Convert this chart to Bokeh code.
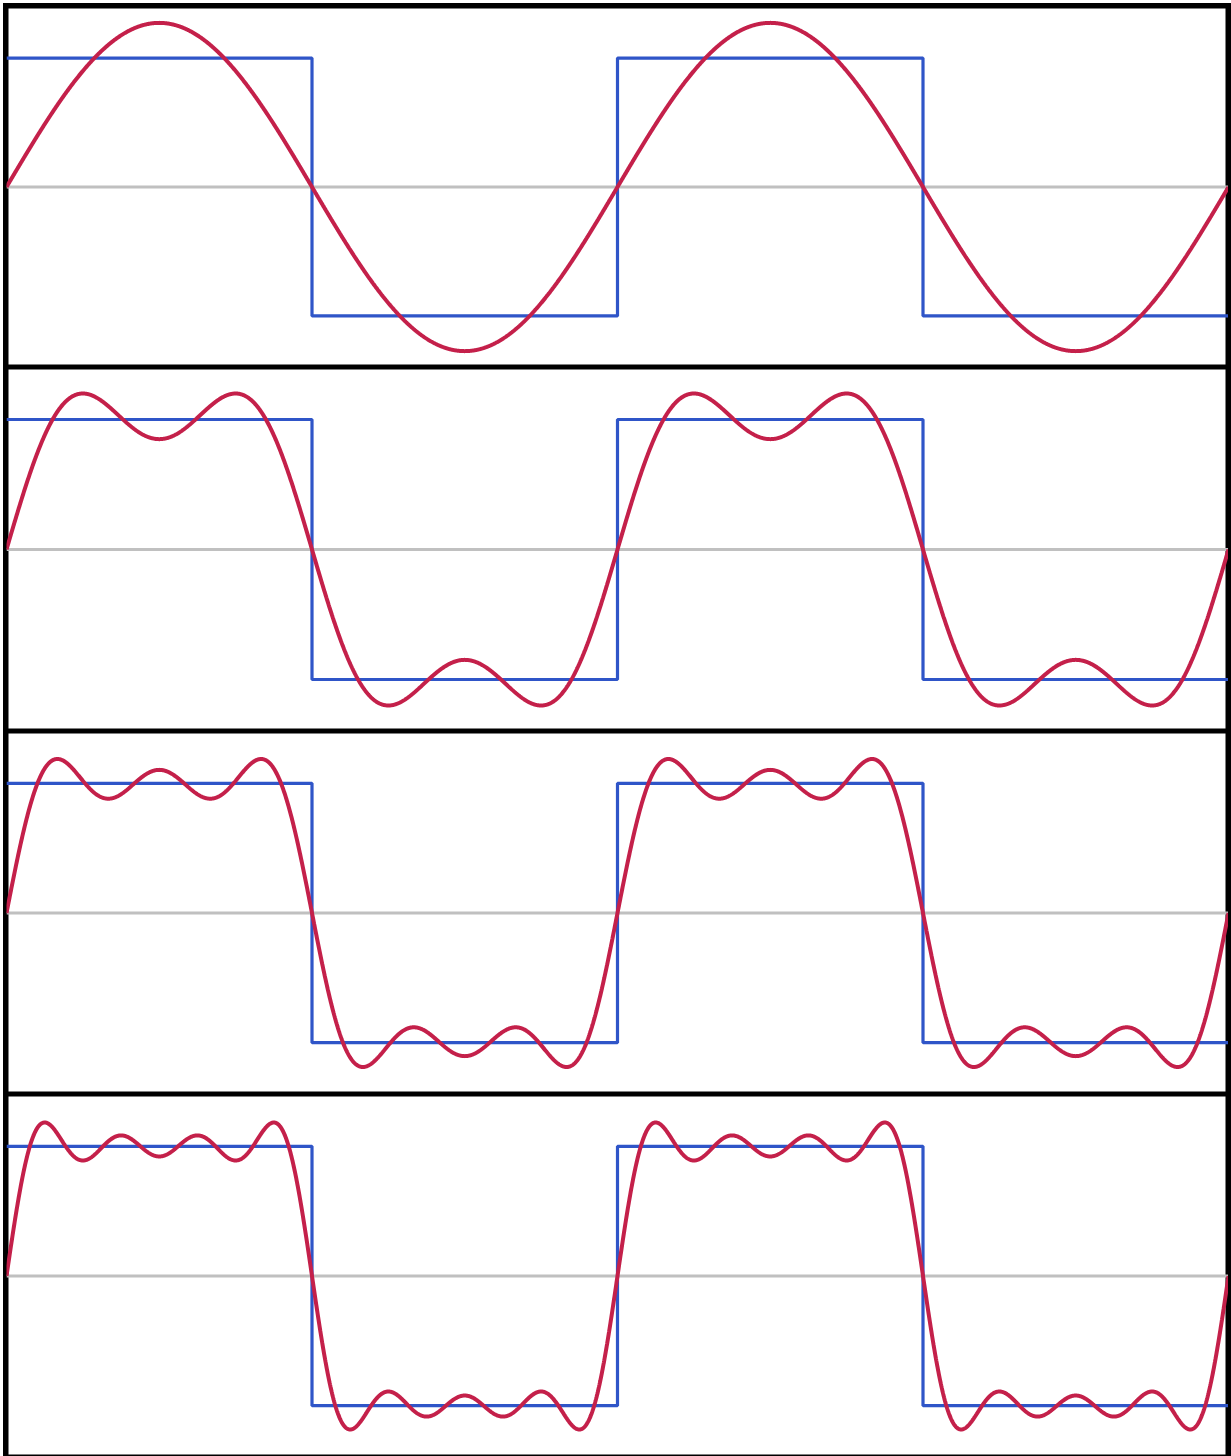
import numpy as np
from bokeh.plotting import figure
from bokeh.layouts import column
from bokeh.models import Range1d
from bokeh.embed import file_html
from bokeh.resources import INLINE

# Fourier partial sums of a square wave: odd harmonics and their amplitudes
harmonics = [1, 3, 5, 7]
amplitudes = [1.273, 0.424, 0.255, 0.182]
terms_per_panel = [1, 2, 3, 4]

# square wave (in periods): edges and levels
square_x = [0.0, 0.5, 1.0, 1.5, 2.0]
square_y = [1, -1, 1, -1, -1]

panel_heights = [361, 364, 363, 363]
WIDTH = 1222

BLUE = "#2f55c8"
RED = "#c4204a"
GREY = "#c0c0c0"

x = np.linspace(0, 2, 3000)

figs = []
for k, (nterms, h) in enumerate(zip(terms_per_panel, panel_heights)):
    p = figure(width=WIDTH, height=h, output_backend="svg", toolbar_location=None,
               x_range=Range1d(0, 2), y_range=Range1d(-1.4, 1.4),
               min_border=0, min_border_left=0, min_border_right=0,
               min_border_top=0, min_border_bottom=0)
    p.axis.visible = False
    p.grid.visible = False
    p.outline_line_color = "black"
    p.outline_line_width = 4
    p.background_fill_color = "white"
    p.border_fill_color = "white"

    p.line([0, 2], [0, 0], line_color=GREY, line_width=3)
    p.step(square_x, square_y, mode="after", line_color=BLUE, line_width=3.2)

    y = np.zeros_like(x)
    for n, a in zip(harmonics[:nterms], amplitudes[:nterms]):
        y = y + a * np.sin(2 * np.pi * n * x)
    p.line(x, y, line_color=RED, line_width=4)
    figs.append(p)

layout = column(*figs, spacing=0,
                styles={"margin": "3px 0 0 3px", "border": "3px solid black",
                        "background-color": "white"})

open("out.html", "w").write(file_html(layout, INLINE))
